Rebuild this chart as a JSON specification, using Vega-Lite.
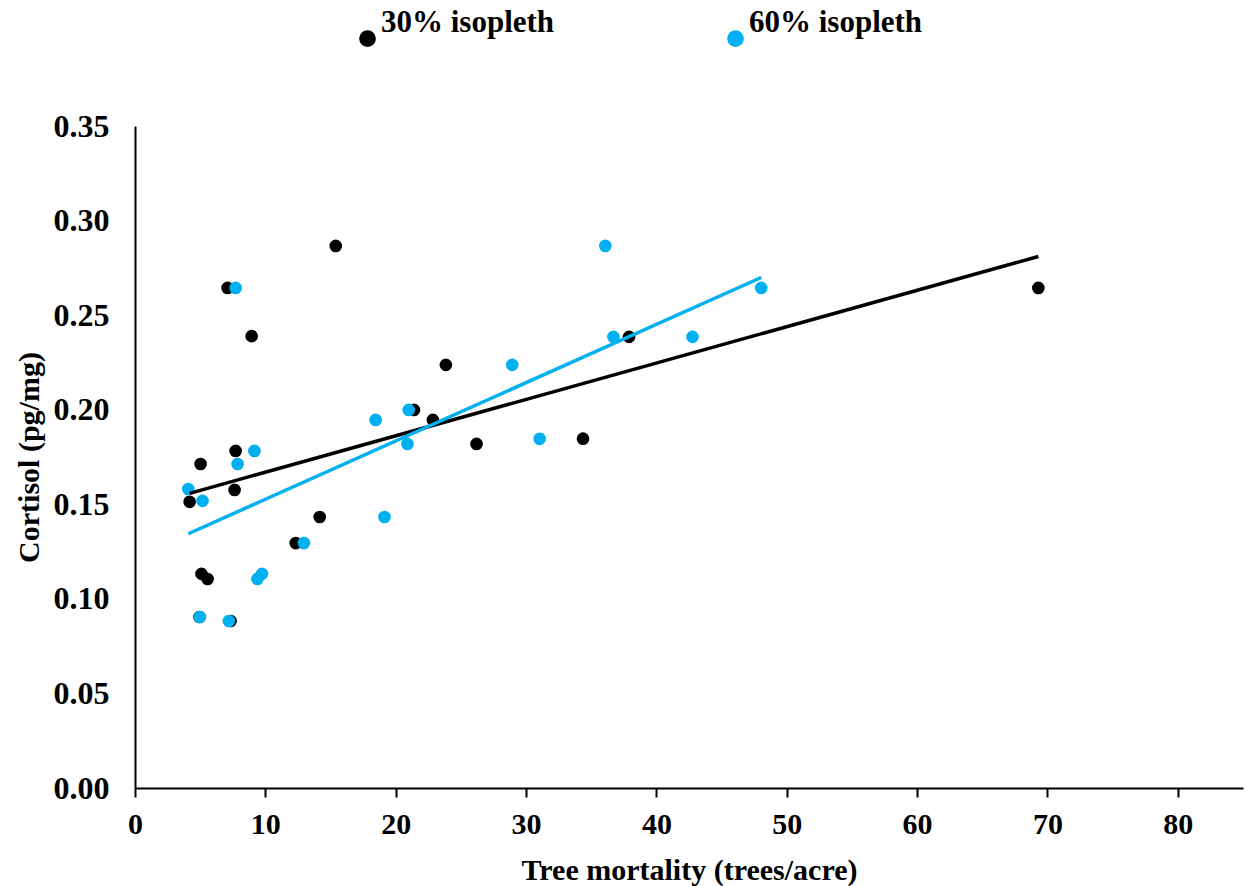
{
  "$schema": "https://vega.github.io/schema/vega-lite/v6.json",
  "width": 1108,
  "height": 662,
  "autosize": {"type": "none"},
  "padding": {"left": 135, "top": 126, "right": 4, "bottom": 98},
  "background": "white",
  "config": {"view": {"stroke": null}, "font": "Liberation Serif"},
  "data": {
    "values": [
      {"x": 15.4, "y": 0.2866, "series": "30% isopleth"},
      {"x": 7.1, "y": 0.2644, "series": "30% isopleth"},
      {"x": 8.95, "y": 0.2389, "series": "30% isopleth"},
      {"x": 23.85, "y": 0.2237, "series": "30% isopleth"},
      {"x": 21.4, "y": 0.1999, "series": "30% isopleth"},
      {"x": 22.85, "y": 0.1946, "series": "30% isopleth"},
      {"x": 26.2, "y": 0.1819, "series": "30% isopleth"},
      {"x": 7.72, "y": 0.1782, "series": "30% isopleth"},
      {"x": 5.03, "y": 0.1713, "series": "30% isopleth"},
      {"x": 7.64, "y": 0.1576, "series": "30% isopleth"},
      {"x": 4.19, "y": 0.1513, "series": "30% isopleth"},
      {"x": 14.17, "y": 0.1433, "series": "30% isopleth"},
      {"x": 12.33, "y": 0.1295, "series": "30% isopleth"},
      {"x": 5.1, "y": 0.1132, "series": "30% isopleth"},
      {"x": 5.57, "y": 0.1105, "series": "30% isopleth"},
      {"x": 7.33, "y": 0.0883, "series": "30% isopleth"},
      {"x": 4.95, "y": 0.0904, "series": "30% isopleth"},
      {"x": 34.37, "y": 0.1847, "series": "30% isopleth"},
      {"x": 37.9, "y": 0.2385, "series": "30% isopleth"},
      {"x": 69.3, "y": 0.2644, "series": "30% isopleth"},
      {"x": 7.72, "y": 0.2644, "series": "60% isopleth"},
      {"x": 18.46, "y": 0.1946, "series": "60% isopleth"},
      {"x": 21.0, "y": 0.1999, "series": "60% isopleth"},
      {"x": 20.9, "y": 0.1819, "series": "60% isopleth"},
      {"x": 9.16, "y": 0.1782, "series": "60% isopleth"},
      {"x": 7.87, "y": 0.1713, "series": "60% isopleth"},
      {"x": 4.09, "y": 0.1581, "series": "60% isopleth"},
      {"x": 5.18, "y": 0.1518, "series": "60% isopleth"},
      {"x": 19.14, "y": 0.1433, "series": "60% isopleth"},
      {"x": 12.96, "y": 0.1295, "series": "60% isopleth"},
      {"x": 9.74, "y": 0.1132, "series": "60% isopleth"},
      {"x": 9.39, "y": 0.1105, "series": "60% isopleth"},
      {"x": 4.98, "y": 0.0904, "series": "60% isopleth"},
      {"x": 7.2, "y": 0.0883, "series": "60% isopleth"},
      {"x": 36.08, "y": 0.2866, "series": "60% isopleth"},
      {"x": 36.7, "y": 0.2385, "series": "60% isopleth"},
      {"x": 42.77, "y": 0.2385, "series": "60% isopleth"},
      {"x": 28.94, "y": 0.2237, "series": "60% isopleth"},
      {"x": 31.04, "y": 0.1846, "series": "60% isopleth"},
      {"x": 48.04, "y": 0.2644, "series": "60% isopleth"}
    ]
  },
  "layer": [
    {
      "mark": {"type": "point", "filled": true, "size": 160, "opacity": 1, "strokeWidth": 0},
      "encoding": {
        "x": {
          "field": "x", "type": "quantitative",
          "scale": {"domain": [0, 85], "nice": false, "zero": true},
          "axis": {
            "title": "Tree mortality (trees/acre)",
            "values": [0, 10, 20, 30, 40, 50, 60, 70, 80],
            "grid": false,
            "domainColor": "black", "domainWidth": 2,
            "tickColor": "black", "tickWidth": 2, "tickSize": 9,
            "labelFont": "Liberation Serif", "labelFontWeight": "bold", "labelFontSize": 30,
            "labelColor": "black", "labelPadding": 12, "labelFlush": false,
            "titleFont": "Liberation Serif", "titleFontWeight": "bold", "titleFontSize": 30,
            "titleColor": "black", "titlePadding": 16
          }
        },
        "y": {
          "field": "y", "type": "quantitative",
          "scale": {"domain": [0, 0.35], "nice": false},
          "axis": {
            "title": "Cortisol (pg/mg)",
            "values": [0, 0.05, 0.1, 0.15, 0.2, 0.25, 0.3, 0.35],
            "format": ".2f",
            "grid": false,
            "domainColor": "black", "domainWidth": 2,
            "ticks": false, "tickSize": 0,
            "labelFont": "Liberation Serif", "labelFontWeight": "bold", "labelFontSize": 32,
            "labelColor": "black", "labelPadding": 26, "labelFlush": false,
            "titleFont": "Liberation Serif", "titleFontWeight": "bold", "titleFontSize": 30,
            "titleColor": "black", "titlePadding": 9
          }
        },
        "color": {
          "field": "series", "type": "nominal",
          "scale": {"domain": ["30% isopleth", "60% isopleth"], "range": ["#000000", "#00B0F0"]},
          "legend": {
            "title": null,
            "orient": "none",
            "direction": "horizontal",
            "legendX": 217,
            "legendY": -103,
            "padding": 0,
            "symbolType": "circle",
            "symbolSize": 280,
            "symbolStrokeWidth": 0,
            "labelFont": "Liberation Serif", "labelFontWeight": "bold", "labelFontSize": 31,
            "labelColor": "black", "labelBaseline": "bottom", "labelOffset": -2,
            "labelLimit": 400,
            "columnPadding": 165
          }
        }
      }
    },
    {
      "transform": [{"regression": "y", "on": "x", "groupby": ["series"]}],
      "mark": {"type": "line", "strokeWidth": 3.5},
      "encoding": {
        "x": {"field": "x", "type": "quantitative"},
        "y": {"field": "y", "type": "quantitative"},
        "color": {"field": "series", "type": "nominal", "legend": null}
      }
    }
  ]
}
